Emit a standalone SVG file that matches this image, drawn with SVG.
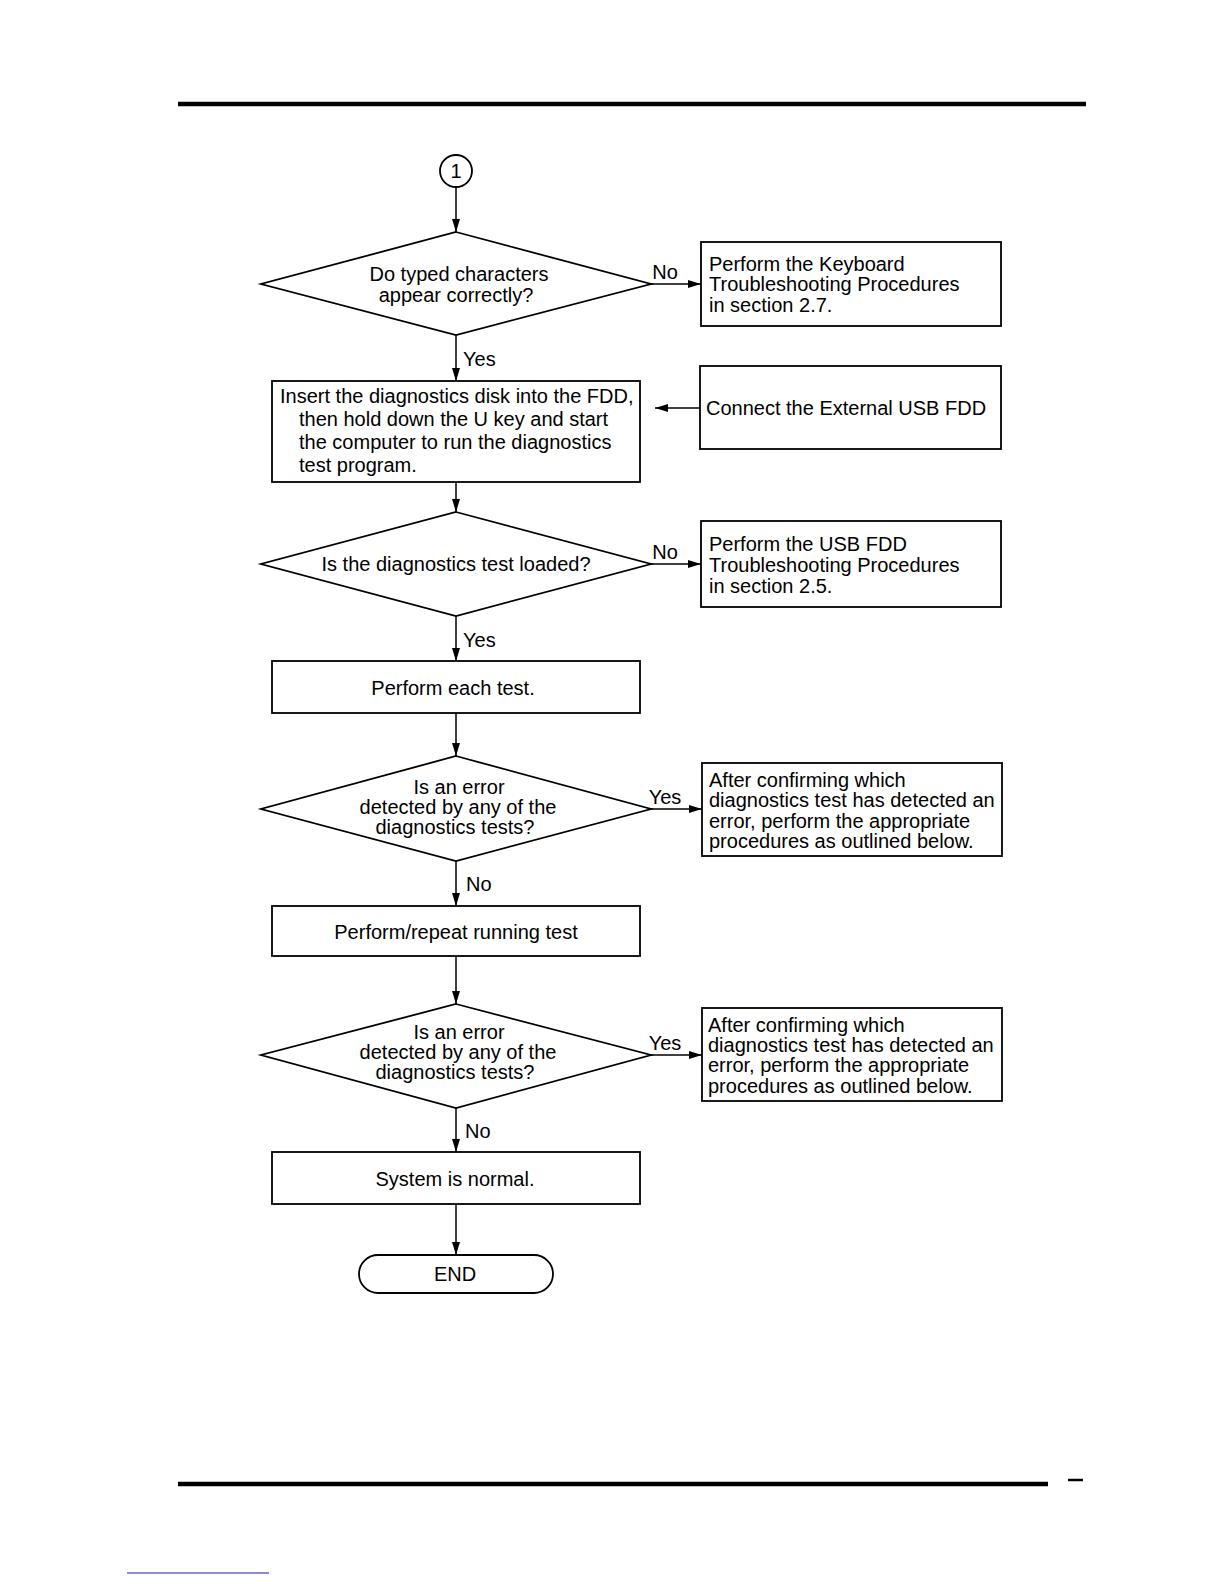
<svg xmlns="http://www.w3.org/2000/svg" width="1224" height="1584" viewBox="0 0 1224 1584">
<style>
.s{fill:#fff;stroke:#000;stroke-width:1.8}
.c{fill:none;stroke:#000;stroke-width:1.5}
text{font-family:"Liberation Sans",Arial,sans-serif;font-size:20px;fill:#000}
.m{text-anchor:middle}
</style>
<defs>
<marker id="ah" viewBox="0 0 13 8" refX="13" refY="4" markerWidth="13" markerHeight="8" markerUnits="userSpaceOnUse" orient="auto">
<path d="M0,0 L13,4 L0,8 Z" fill="#000"/>
</marker>
</defs>
<rect width="1224" height="1584" fill="#fff"/>
<line x1="178" y1="104" x2="1086" y2="104" stroke="#000" stroke-width="4.5"/>
<line x1="178" y1="1484" x2="1048" y2="1484" stroke="#000" stroke-width="4.5"/>
<line x1="1068" y1="1480" x2="1083" y2="1480" stroke="#000" stroke-width="2.5"/>
<line x1="127" y1="1573" x2="269" y2="1573" stroke="#1a1aa0" stroke-width="1.2"/>

<g id="connectors">
<line class="c" x1="456" y1="187" x2="456" y2="232" marker-end="url(#ah)"/>
<line class="c" x1="651" y1="284" x2="701" y2="284" marker-end="url(#ah)"/>
<line class="c" x1="456" y1="335" x2="456" y2="381" marker-end="url(#ah)"/>
<line class="c" x1="700" y1="408" x2="655" y2="408" marker-end="url(#ah)"/>
<line class="c" x1="456" y1="482" x2="456" y2="512" marker-end="url(#ah)"/>
<line class="c" x1="651" y1="564" x2="701" y2="564" marker-end="url(#ah)"/>
<line class="c" x1="456" y1="616" x2="456" y2="661" marker-end="url(#ah)"/>
<line class="c" x1="456" y1="713" x2="456" y2="756" marker-end="url(#ah)"/>
<line class="c" x1="651" y1="809" x2="702" y2="809" marker-end="url(#ah)"/>
<line class="c" x1="456" y1="861" x2="456" y2="906" marker-end="url(#ah)"/>
<line class="c" x1="456" y1="956" x2="456" y2="1004" marker-end="url(#ah)"/>
<line class="c" x1="651" y1="1055" x2="702" y2="1055" marker-end="url(#ah)"/>
<line class="c" x1="456" y1="1108" x2="456" y2="1152" marker-end="url(#ah)"/>
<line class="c" x1="456" y1="1204" x2="456" y2="1255" marker-end="url(#ah)"/>
<text x="665" y="279" class="m">No</text>
<text x="463" y="366">Yes</text>
<text x="665" y="559" class="m">No</text>
<text x="463" y="647">Yes</text>
<text x="665" y="804" class="m">Yes</text>
<text x="466" y="891">No</text>
<text x="665" y="1050" class="m">Yes</text>
<text x="465" y="1138">No</text>
</g>

<g id="start">
<circle class="s" cx="456" cy="171" r="16"/>
<text x="456" y="178" class="m">1</text>
</g>

<g id="q1">
<polygon class="s" points="456,232 651,284 456,335 261,284"/>
<text x="459" y="281" class="m">Do typed characters</text>
<text x="456" y="302" class="m">appear correctly?</text>
</g>

<g id="keyboard">
<rect class="s" x="701" y="242" width="300" height="84"/>
<text x="709" y="271">Perform the Keyboard</text>
<text x="709" y="291">Troubleshooting Procedures</text>
<text x="709" y="312">in section 2.7.</text>
</g>

<g id="insert">
<rect class="s" x="272" y="381" width="368" height="101"/>
<text x="280" y="403">Insert the diagnostics disk into the FDD,</text>
<text x="299" y="426">then hold down the U key and start</text>
<text x="299" y="449">the computer to run the diagnostics</text>
<text x="299" y="472">test program.</text>
</g>

<g id="connect">
<rect class="s" x="700" y="366" width="301" height="83"/>
<text x="706" y="415">Connect the External USB FDD</text>
</g>

<g id="q2">
<polygon class="s" points="456,512 651,564 456,616 261,564"/>
<text x="456" y="571" class="m">Is the diagnostics test loaded?</text>
</g>

<g id="usbfdd">
<rect class="s" x="701" y="521" width="300" height="86"/>
<text x="709" y="551">Perform the USB FDD</text>
<text x="709" y="572">Troubleshooting Procedures</text>
<text x="709" y="593">in section 2.5.</text>
</g>

<g id="eachtest">
<rect class="s" x="272" y="661" width="368" height="52"/>
<text x="453" y="695" class="m">Perform each test.</text>
</g>

<g id="q3">
<polygon class="s" points="456,756 651,809 456,861 261,809"/>
<text x="459" y="794" class="m">Is an error</text>
<text x="458" y="814" class="m">detected by any of the</text>
<text x="455" y="834" class="m">diagnostics tests?</text>
</g>

<g id="after1">
<rect class="s" x="702" y="763" width="300" height="93"/>
<text x="709" y="787">After confirming which</text>
<text x="709" y="807">diagnostics test has detected an</text>
<text x="709" y="828">error, perform the appropriate</text>
<text x="709" y="848">procedures as outlined below.</text>
</g>

<g id="repeat">
<rect class="s" x="272" y="906" width="368" height="50"/>
<text x="456" y="939" class="m">Perform/repeat running test</text>
</g>

<g id="q4">
<polygon class="s" points="456,1004 651,1055 456,1108 261,1055"/>
<text x="459" y="1039" class="m">Is an error</text>
<text x="458" y="1059" class="m">detected by any of the</text>
<text x="455" y="1079" class="m">diagnostics tests?</text>
</g>

<g id="after2">
<rect class="s" x="702" y="1008" width="300" height="93"/>
<text x="708" y="1032">After confirming which</text>
<text x="708" y="1052">diagnostics test has detected an</text>
<text x="708" y="1072">error, perform the appropriate</text>
<text x="708" y="1093">procedures as outlined below.</text>
</g>

<g id="normal">
<rect class="s" x="272" y="1152" width="368" height="52"/>
<text x="455" y="1186" class="m">System is normal.</text>
</g>

<g id="end">
<rect class="s" x="359" y="1255" width="194" height="38" rx="19" ry="19"/>
<text x="455" y="1281" class="m">END</text>
</g>
</svg>
